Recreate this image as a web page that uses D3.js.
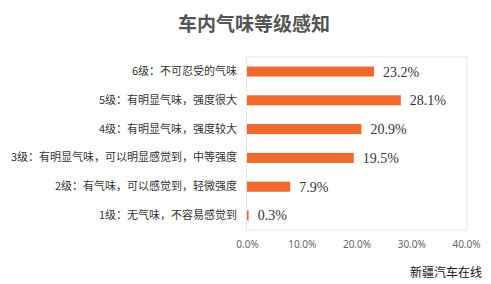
<!DOCTYPE html>
<html>
<head>
<meta charset="utf-8">
<script src="https://cdn.jsdelivr.net/npm/d3@7"></script>
<style>
  body { margin: 0; background: #fff; }
</style>
</head>
<body>
<div id="vis"></div>
<script>
// categories, top to bottom
const levels = [
  '6级：不可忍受的气味',
  '5级：有明显气味，强度很大',
  '4级：有明显气味，强度较大',
  '3级：有明显气味，可以明显感觉到，中等强度',
  '2级：有气味，可以感觉到，轻微强度',
  '1级：无气味，不容易感觉到'
];
const shares = [23.2, 28.1, 20.9, 19.5, 7.9, 0.3];
const ticks = [0, 10, 20, 30, 40];

const svg = d3.select('#vis')
  .append('svg')
  .attr('width', 491)
  .attr('height', 284);

const plotLeft = 247, plotRight = 466, plotTop = 57, plotBottom = 230;

const x = d3.scaleLinear()
  .domain([0, 40])
  .range([plotLeft, plotRight]);

const y = d3.scaleBand()
  .domain(levels)
  .range([plotTop, plotBottom])
  .paddingInner(0.65)
  .paddingOuter(0.33);

// title
svg.append('text')
  .attr('x', 254)
  .attr('y', 31)
  .attr('text-anchor', 'middle')
  .attr('font-family', '"Noto Sans CJK SC", sans-serif')
  .attr('font-weight', 'bold')
  .attr('font-size', 19)
  .attr('fill', '#555')
  .text('车内气味等级感知');

// plot frame
svg.append('rect')
  .attr('x', plotLeft - 0.5)
  .attr('y', plotTop)
  .attr('width', plotRight - plotLeft + 1.5)
  .attr('height', plotBottom - plotTop)
  .attr('fill', 'none')
  .attr('stroke', '#e4e4e4');

// bars
svg.selectAll('.bar')
  .data(shares)
  .enter()
  .append('rect')
  .attr('class', 'bar')
  .attr('x', x(0))
  .attr('y', (d, i) => y(levels[i]))
  .attr('width', d => x(d) - x(0))
  .attr('height', y.bandwidth())
  .attr('fill', '#ef6a2c');

// value labels
svg.selectAll('.val')
  .data(shares)
  .enter()
  .append('text')
  .attr('class', 'val')
  .attr('x', d => x(d) + 9)
  .attr('y', (d, i) => y(levels[i]) + y.bandwidth() / 2 + 5)
  .attr('font-family', '"Liberation Serif", serif')
  .attr('font-size', 14)
  .attr('fill', '#333')
  .text(d => d.toFixed(1) + '%');

// category labels
const yAxis = svg.append('g')
  .attr('transform', `translate(${plotLeft - 10},0)`)
  .call(d3.axisLeft(y).tickSize(0).tickPadding(0));
yAxis.select('.domain').remove();
yAxis.selectAll('text')
  .attr('font-family', '"Noto Sans CJK SC", sans-serif')
  .attr('font-size', 11)
  .attr('fill', '#333');

// x tick labels
const xAxis = svg.append('g')
  .attr('transform', `translate(0,${plotBottom})`)
  .call(d3.axisBottom(x).tickValues(ticks).tickSize(0).tickPadding(11)
    .tickFormat(d => d.toFixed(1) + '%'));
xAxis.select('.domain').remove();
xAxis.selectAll('text')
  .attr('font-family', '"Noto Sans", sans-serif')
  .attr('font-size', 10)
  .attr('fill', '#666');

// source mark
svg.append('text')
  .attr('x', 482)
  .attr('y', 277)
  .attr('text-anchor', 'end')
  .attr('font-family', '"Noto Sans CJK SC", sans-serif')
  .attr('font-size', 12)
  .attr('fill', '#111')
  .text('新疆汽车在线');
</script>
</body>
</html>
